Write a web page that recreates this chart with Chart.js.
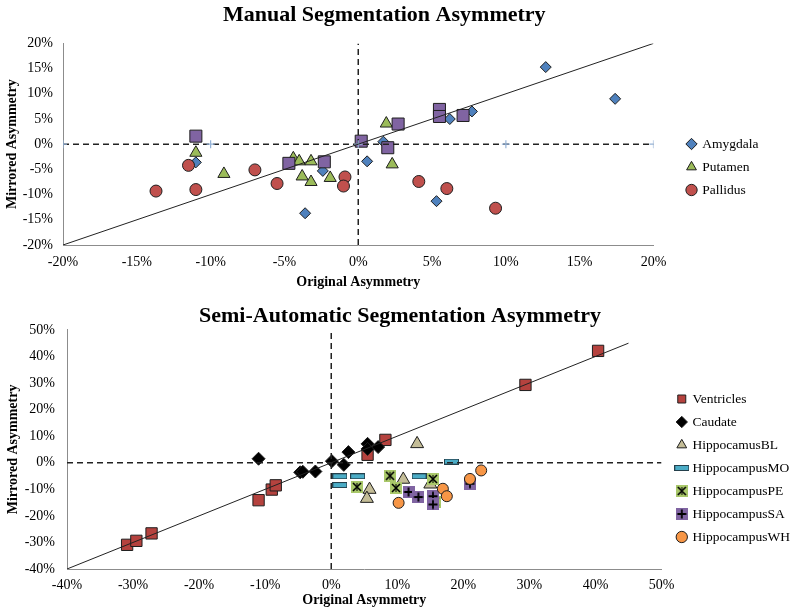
<!DOCTYPE html>
<html>
<head>
<meta charset="utf-8">
<script src="https://cdn.jsdelivr.net/npm/chart.js@4.4.0/dist/chart.umd.min.js"></script>
<style>
  body { margin: 0; background: #fff; }
  canvas { display: block; }
</style>
</head>
<body>
<canvas id="manual" width="800" height="300"></canvas>
<canvas id="semi" width="800" height="313"></canvas>
<script>
// ---- manual segmentation (percent values) ----
const amygX = [12.7, 17.4, 7.7, 6.2, 1.7, 0.6, 5.3, -11.0, -2.4, -3.6];
const amygY = [15.3, 9.0, 6.5, 5.0, 0.5, -3.4, -11.3, -3.6, -5.3, -13.7];
const putX = [1.9, 2.3, -11.0, -9.1, -4.4, -4.0, -3.2, -3.8, -3.2, -1.9];
const putY = [4.1, -4.0, -1.7, -5.9, -2.8, -3.4, -3.4, -6.4, -7.5, -6.7];
const palX = [-13.7, -11.5, -11.0, -7.0, -5.5, -0.9, -1.0, 4.1, 6.0, 9.3];
const palY = [-9.3, -4.2, -9.0, -5.1, -7.8, -6.5, -8.3, -7.4, -8.8, -12.7];
const sq4X = [-11.0, -4.7, -2.3, 0.2, 2.7, 2.0, 5.5, 5.5, 7.1];
const sq4Y = [1.6, -3.8, -3.5, 0.6, 4.0, -0.7, 6.9, 5.5, 5.7];
const manualDiag = [-20, 20];
const manualZeroX = [-20, -10, 0, 10, 20];
const manualZeroY = [0, 0, 0, 0, 0];

// ---- semi-automatic segmentation ----
const ventX = [-30.9, -29.5, -27.2, -11.0, -9.0, -8.4, 5.5, 8.2, 29.4, 40.4];
const ventY = [-30.9, -29.4, -26.6, -14.1, -10.1, -8.5, 3.0, 8.6, 29.3, 42.1];
const caudX = [-11.0, -4.7, -4.3, -2.4, 0.1, 1.9, 2.6, 5.5, 5.5, 7.1];
const caudY = [1.5, -3.6, -3.4, -3.3, 0.6, -0.8, 4.0, 7.1, 5.2, 5.9];
const blX = [13.0, 5.8, 5.4, 10.9, 15.0];
const blY = [7.1, -10.1, -13.5, -6.3, -8.1];
const moX = [1.3, 4.0, 1.3, 13.3, 18.2];
const moY = [-5.1, -5.1, -8.4, -5.1, 0.4];
const peX = [8.9, 3.9, 9.8, 15.4, 15.7];
const peY = [-4.9, -9.1, -9.5, -6.1, -14.6];
const saX = [11.7, 13.2, 15.4, 15.4, 21.0];
const saY = [-11.0, -12.9, -12.6, -15.7, -7.9];
const whX = [10.2, 16.9, 17.5, 21.0, 22.7];
const whY = [-15.1, -9.8, -12.6, -6.1, -2.9];
const semiDiag = [-40, 45];
const semiZeroX = [-40, 50];
const semiZeroY = [0, 0];

Chart.defaults.font.family = "'Liberation Serif', 'Times New Roman', serif";
Chart.defaults.color = '#000';

const pts = (xs, ys) => xs.map((x, i) => ({ x, y: ys[i] }));
const pct = v => v + '%';
const EDGE = '#1e1e1e';

// small canvas markers for the styles Chart.js doesn't have
function icon(w, h, draw) {
  const c = document.createElement('canvas');
  c.width = w; c.height = h;
  draw(c.getContext('2d'), w, h);
  return c;
}
const dashIcon = icon(15, 6, (g, w, h) => {
  g.fillStyle = '#4BACC6'; g.fillRect(0.5, 0.5, w - 1, h - 1);
  g.strokeStyle = '#24404c'; g.lineWidth = 1; g.strokeRect(0.5, 0.5, w - 1, h - 1);
});
const peIcon = icon(12, 12, (g, w, h) => {
  g.fillStyle = '#A9C86A'; g.fillRect(0, 0, w, h);
  g.strokeStyle = '#000'; g.lineWidth = 1.6;
  g.beginPath(); g.moveTo(2, 2); g.lineTo(w - 2, h - 2); g.moveTo(w - 2, 2); g.lineTo(2, h - 2); g.stroke();
  g.beginPath(); g.moveTo(w / 2, 2); g.lineTo(w / 2, h - 2); g.lineWidth = 1; g.stroke();
});
const saIcon = icon(12, 12, (g, w, h) => {
  g.fillStyle = '#8064A2'; g.fillRect(0, 0, w, h);
  g.strokeStyle = '#000'; g.lineWidth = 1.8;
  g.beginPath(); g.moveTo(w / 2, 1.5); g.lineTo(w / 2, h - 1.5); g.moveTo(1.5, h / 2); g.lineTo(w - 1.5, h / 2); g.stroke();
});

function marker(label, xs, ys, style, radius, fill, order) {
  return {
    label, data: pts(xs, ys), order,
    pointStyle: style, pointRadius: radius,
    backgroundColor: fill, borderColor: EDGE, borderWidth: 1,
  };
}

function guide(xs, ys, dash, extra) {
  return Object.assign({
    label: '_guide', data: pts(xs, ys), showLine: true, order: 0,
    borderColor: '#222', borderWidth: dash.length ? 1.5 : 1, borderDash: dash,
    pointRadius: 0,
  }, extra);
}

function axes(min, max, step, o) {
  return {
    x: {
      type: 'linear', min, max,
      ticks: { stepSize: step, callback: pct, padding: o.xPad, font: { size: 14 } },
      grid: { display: false, drawTicks: false },
      border: { color: '#8c8c8c' },
      title: { display: true, text: 'Original Asymmetry', font: { size: 14, weight: 'bold' }, padding: { top: 0, bottom: o.xTitlePad } },
      afterFit: s => { s.height = o.xH; },
    },
    y: {
      type: 'linear', min, max,
      ticks: { stepSize: step, callback: pct, padding: o.yPad, font: { size: 14 } },
      grid: { display: false, drawTicks: false },
      border: { color: '#8c8c8c' },
      title: { display: true, text: 'Mirrored Asymmetry', font: { size: 14, weight: 'bold' }, padding: { top: o.yTitlePad, bottom: 0 } },
      afterFit: s => { s.width = o.yW; },
    },
    gap: {
      type: 'linear', position: 'right', display: true,
      ticks: { display: false }, grid: { display: false, drawTicks: false }, border: { display: false },
      afterFit: s => { s.width = o.gap; },
    },
  };
}

function legend(shift) {
  return {
    position: 'right',
    title: { display: true, text: '', font: { size: 10 }, padding: { top: shift, bottom: shift } },
    labels: {
      usePointStyle: true, boxWidth: 8, boxHeight: 8, padding: 9.5,
      font: { size: 13.5 },
      filter: item => !item.text.startsWith('_') && item.text !== 'Series4',
      sort: (a, b) => a.datasetIndex - b.datasetIndex,
    },
  };
}

function title(text, top, bottom) {
  return { display: true, text, font: { size: 22, weight: 'bold' }, color: '#000', padding: { top, bottom } };
}

new Chart(document.getElementById('manual'), {
  type: 'scatter',
  data: {
    datasets: [
      marker('Amygdala', amygX, amygY, 'rectRot', 5.5, '#4F81BD', 9),
      marker('Putamen', putX, putY, 'triangle', 7, '#9BBB59', 8),
      marker('Pallidus', palX, palY, 'circle', 6, '#C0504D', 7),
      marker('Series4', sq4X, sq4Y, 'rect', 8.5, '#8064A2', 6),
      guide(manualDiag, manualDiag, []),
      guide(manualZeroX, manualZeroY, [6, 4], { pointRadius: 4, pointStyle: 'cross', pointBorderColor: '#95B3D7', pointBorderWidth: 1.2 }),
      guide([0, 0], [-20, 20], [6, 4]),
    ],
  },
  options: {
    responsive: false, animation: false, events: [],
    layout: { padding: { left: 0, right: 31.5, top: 0, bottom: 0 } },
    scales: axes(-20, 20, 5, { xPad: 8.5, xTitlePad: 9.5, xH: 55, yPad: 10, yTitlePad: 4, yW: 63, gap: 24.5 }),
    plugins: {
      title: title('Manual Segmentation Asymmetry', 2, 15),
      legend: legend(11),
      tooltip: { enabled: false },
    },
  },
});

new Chart(document.getElementById('semi'), {
  type: 'scatter',
  data: {
    datasets: [
      marker('Ventricles', ventX, ventY, 'rect', 8, '#B5423E', 10),
      marker('Caudate', caudX, caudY, 'rectRot', 6.5, '#000', 9),
      marker('HippocamusBL', blX, blY, 'triangle', 7.5, '#C4BD97', 8),
      marker('HippocampusMO', moX, moY, dashIcon, 6, '#4BACC6', 7),
      marker('HippocampusPE', peX, peY, peIcon, 6, '#9BBB59', 6),
      marker('HippocampusSA', saX, saY, saIcon, 6, '#8064A2', 5),
      marker('HippocampusWH', whX, whY, 'circle', 5.5, '#F79646', 4),
      guide(semiDiag, semiDiag, []),
      guide(semiZeroX, semiZeroY, [6, 4]),
      guide([0, 0], [-40, 50], [6, 4]),
    ],
  },
  options: {
    responsive: false, animation: false, events: [],
    layout: { padding: { left: 0, right: 0, top: 0, bottom: 0 } },
    scales: axes(-40, 50, 10, { xPad: 8, xTitlePad: 4.5, xH: 44, yPad: 12, yTitlePad: 5, yW: 67, gap: 6.75 }),
    plugins: {
      title: title('Semi-Automatic Segmentation Asymmetry', 3.5, 0),
      legend: legend(5.5),
      tooltip: { enabled: false },
    },
  },
});
</script>
</body>
</html>
